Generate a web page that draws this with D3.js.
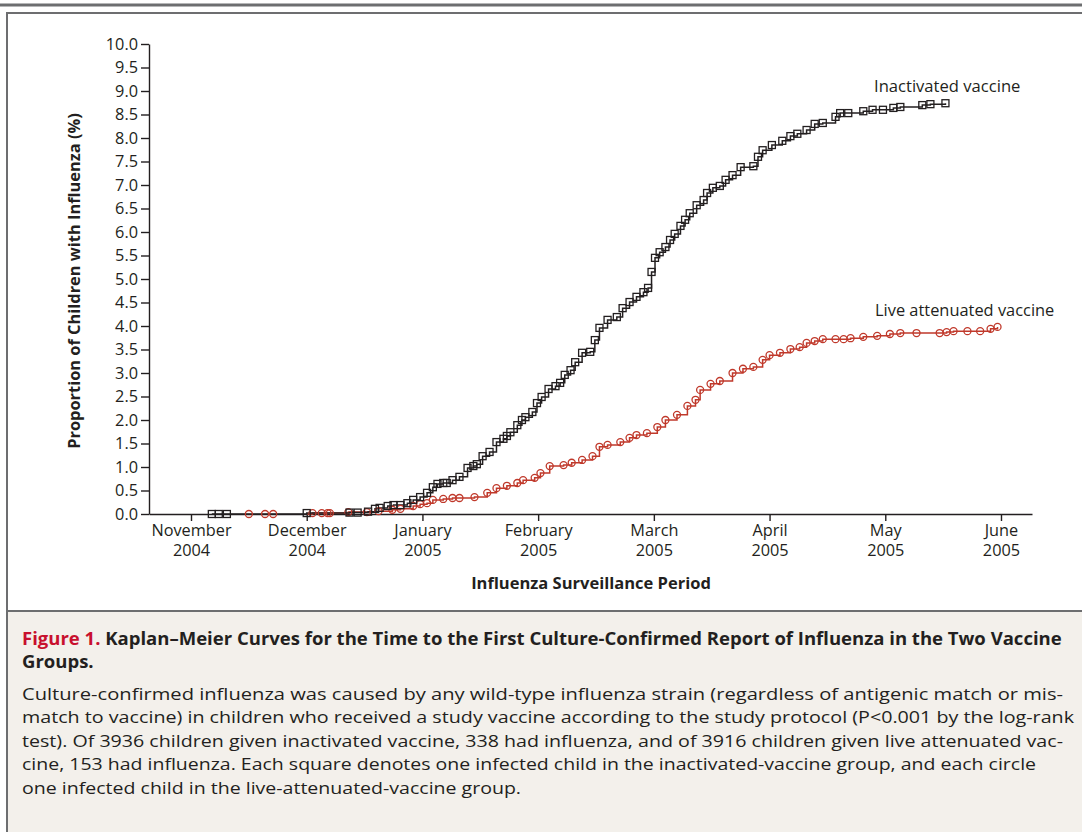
<!DOCTYPE html>
<html>
<head>
<meta charset="utf-8">
<script src="https://cdn.jsdelivr.net/npm/d3@7"></script>
<style>
  body { margin: 0; background: #fff; }
  svg { display: block; }
  text { font-family: "Open Sans", sans-serif; fill: #231f20; }
</style>
</head>
<body>
<div id="chart"></div>
<script>
// x values are month positions (0 = 1 Nov 2004, 1 = 1 Dec 2004, ...)
const monthNames = ["November", "December", "January", "February", "March", "April", "May", "June"];
const monthYears = ["2004", "2004", "2005", "2005", "2005", "2005", "2005", "2005"];
const yTicks = d3.range(0, 10.01, 0.5);

const inactivatedX = [0.18, 0.24, 0.31, 1.00, 1.37, 1.44, 1.53, 1.59, 1.63, 1.70, 1.75, 1.81, 1.87, 1.92, 1.98,
  2.04, 2.09, 2.13, 2.18, 2.21, 2.26, 2.32, 2.39, 2.44, 2.47, 2.52, 2.58, 2.64, 2.70, 2.73, 2.76, 2.82, 2.86,
  2.89, 2.95, 2.99, 3.03, 3.09, 3.15, 3.19, 3.23, 3.28, 3.32, 3.38, 3.45, 3.49, 3.53, 3.60, 3.68, 3.73, 3.79,
  3.85, 3.91, 3.95, 3.98, 4.01, 4.05, 4.10, 4.14, 4.18, 4.23, 4.27, 4.31, 4.37, 4.43, 4.46, 4.51, 4.57, 4.62,
  4.68, 4.75, 4.86, 4.90, 4.94, 5.02, 5.11, 5.18, 5.24, 5.32, 5.39, 5.46, 5.57, 5.61, 5.68, 5.81, 5.89, 5.98,
  6.07, 6.13, 6.32, 6.39, 6.52];
const inactivatedY = [0, 0, 0, 0.02, 0.03, 0.03, 0.05, 0.11, 0.13, 0.17, 0.19, 0.19, 0.23, 0.30, 0.36,
  0.45, 0.57, 0.64, 0.66, 0.66, 0.72, 0.79, 0.98, 1.02, 1.06, 1.23, 1.32, 1.53, 1.60, 1.66, 1.74, 1.89, 2.00,
  2.06, 2.17, 2.36, 2.49, 2.66, 2.72, 2.79, 2.96, 3.06, 3.23, 3.43, 3.45, 3.70, 3.96, 4.13, 4.19, 4.38, 4.51,
  4.62, 4.72, 4.81, 5.15, 5.45, 5.57, 5.68, 5.83, 5.96, 6.13, 6.26, 6.40, 6.57, 6.68, 6.83, 6.94, 6.98, 7.11,
  7.21, 7.38, 7.40, 7.60, 7.74, 7.85, 7.94, 8.04, 8.09, 8.17, 8.30, 8.32, 8.45, 8.53, 8.53, 8.57, 8.60, 8.60,
  8.64, 8.66, 8.70, 8.72, 8.74];

const liveX = [0.50, 0.64, 0.71, 1.05, 1.13, 1.18, 1.20, 1.36, 1.52, 1.62, 1.74, 1.81, 1.92, 1.98, 2.04, 2.09,
  2.18, 2.26, 2.32, 2.45, 2.56, 2.64, 2.73, 2.82, 2.87, 2.97, 3.02, 3.10, 3.22, 3.29, 3.38, 3.47, 3.53, 3.60,
  3.71, 3.79, 3.85, 3.94, 4.03, 4.10, 4.20, 4.29, 4.36, 4.40, 4.49, 4.57, 4.68, 4.77, 4.86, 4.94, 5.00, 5.09,
  5.18, 5.26, 5.32, 5.39, 5.46, 5.57, 5.64, 5.70, 5.81, 5.93, 6.04, 6.13, 6.27, 6.47, 6.53, 6.59, 6.71, 6.82,
  6.91, 6.97];
const liveY = [0, 0, 0, 0.02, 0.02, 0.02, 0.02, 0.04, 0.04, 0.06, 0.09, 0.11, 0.17, 0.21, 0.23, 0.30,
  0.32, 0.34, 0.34, 0.36, 0.45, 0.55, 0.60, 0.66, 0.72, 0.77, 0.87, 1.02, 1.04, 1.09, 1.15, 1.23, 1.43, 1.47,
  1.53, 1.62, 1.68, 1.72, 1.85, 2.00, 2.11, 2.30, 2.43, 2.64, 2.77, 2.83, 3.00, 3.09, 3.13, 3.28, 3.38, 3.43,
  3.51, 3.55, 3.64, 3.68, 3.72, 3.72, 3.72, 3.74, 3.77, 3.79, 3.83, 3.85, 3.85, 3.85, 3.87, 3.89, 3.89, 3.89,
  3.94, 3.98];

const bodyLines = [
    'Culture-confirmed influenza was caused by any wild-type influenza strain (regardless of antigenic match or mis-',
    'match to vaccine) in children who received a study vaccine according to the study protocol (P<0.001 by the log-rank',
    'test). Of 3936 children given inactivated vaccine, 338 had influenza, and of 3916 children given live attenuated vac-',
    'cine, 153 had influenza. Each square denotes one infected child in the inactivated-vaccine group, and each circle',
    'one infected child in the live-attenuated-vaccine group.'
];

const width = 1082;
const height = 832;

const svg = d3.select('#chart')
    .append('svg')
    .attr('width', width)
    .attr('height', height);

// Frame and caption panel
svg.append('rect')
    .attr('x', 0).attr('y', 3.5)
    .attr('width', width).attr('height', 3)
    .attr('fill', '#6d6e70');

svg.append('rect')
    .attr('x', 7).attr('y', 612)
    .attr('width', width).attr('height', height - 612)
    .attr('fill', '#f3f0eb');

svg.append('path')
    .attr('d', `M7,${height} V13 H${width}`)
    .attr('fill', 'none')
    .attr('stroke', '#6d6e70')
    .attr('stroke-width', 2);

svg.append('line')
    .attr('x1', 7).attr('x2', width)
    .attr('y1', 611).attr('y2', 611)
    .attr('stroke', '#6d6e70')
    .attr('stroke-width', 2);

// Scales
const xScale = d3.scaleLinear()
    .domain([-0.363, 7.268])
    .range([149, 1032]);

const yScale = d3.scaleLinear()
    .domain([0, 10])
    .range([514, 44]);

// Axes
const xAxis = d3.axisBottom(xScale)
    .tickValues(d3.range(monthNames.length))
    .tickSize(7)
    .tickSizeOuter(0)
    .tickFormat('');

const gx = svg.append('g')
    .attr('transform', 'translate(0,514)')
    .call(xAxis);

gx.selectAll('.tick')
    .each(function(d) {
        const t = d3.select(this).append('text')
            .attr('text-anchor', 'middle')
            .attr('font-size', 16.3)
            .attr('fill', '#231f20');
        t.append('tspan').attr('x', 0).attr('y', 22).text(monthNames[d]);
        t.append('tspan').attr('x', 0).attr('y', 42).text(monthYears[d]);
    });

const yAxis = d3.axisLeft(yScale)
    .tickValues(yTicks)
    .tickSize(8)
    .tickSizeOuter(0)
    .tickPadding(3)
    .tickFormat(d3.format('.1f'));

const gy = svg.append('g')
    .attr('transform', 'translate(149,0)')
    .call(yAxis);

svg.selectAll('.domain, .tick line')
    .attr('stroke', '#231f20')
    .attr('stroke-width', 1.4);

gy.selectAll('.tick text')
    .attr('font-size', 16.3)
    .attr('font-family', '"Open Sans", sans-serif')
    .attr('fill', '#231f20');

// Axis titles
svg.append('text')
    .attr('transform', 'translate(80,281) rotate(-90)')
    .attr('text-anchor', 'middle')
    .attr('font-size', 16.4)
    .attr('font-weight', 'bold')
    .text('Proportion of Children with Influenza (%)');

svg.append('text')
    .attr('x', 591)
    .attr('y', 589)
    .attr('text-anchor', 'middle')
    .attr('font-size', 16.5)
    .attr('font-weight', 'bold')
    .text('Influenza Surveillance Period');

// Kaplan-Meier step curves
const line = d3.line()
    .x(d => xScale(d[0]))
    .y(d => yScale(d[1]))
    .curve(d3.curveStepAfter);

const inactivated = inactivatedX.map((x, i) => [x, inactivatedY[i]]);
const live = liveX.map((x, i) => [x, liveY[i]]);

const liveColor = '#c0392b';
const inactColor = '#231f20';

svg.append('path')
    .datum([[1.0, 0]].concat(live.filter(d => d[0] > 1.0)))
    .attr('d', line)
    .attr('fill', 'none')
    .attr('stroke', liveColor)
    .attr('stroke-width', 1.5);

svg.append('path')
    .datum(inactivated)
    .attr('d', line)
    .attr('fill', 'none')
    .attr('stroke', inactColor)
    .attr('stroke-width', 1.5);

svg.append('g')
    .selectAll('circle')
    .data(live)
    .enter()
    .append('circle')
    .attr('cx', d => xScale(d[0]))
    .attr('cy', d => yScale(d[1]))
    .attr('r', 3.5)
    .attr('fill', 'none')
    .attr('stroke', liveColor)
    .attr('stroke-width', 1.3);

svg.append('g')
    .selectAll('rect')
    .data(inactivated)
    .enter()
    .append('rect')
    .attr('x', d => xScale(d[0]) - 3.5)
    .attr('y', d => yScale(d[1]) - 3.5)
    .attr('width', 7)
    .attr('height', 7)
    .attr('fill', 'none')
    .attr('stroke', inactColor)
    .attr('stroke-width', 1.3);

// Series labels
svg.append('text')
    .attr('x', 874).attr('y', 92)
    .attr('font-size', 16.6)
    .text('Inactivated vaccine');

svg.append('text')
    .attr('x', 875).attr('y', 316)
    .attr('font-size', 16.4)
    .text('Live attenuated vaccine');

// Caption (glyphs widened a little to match the original's wide face)
const titleG = svg.append('g')
    .attr('transform', 'translate(22,0) scale(1.09,1)');

const title = titleG.append('text')
    .attr('x', 0).attr('y', 645)
    .attr('font-size', 17)
    .attr('font-weight', 'bold');
title.append('tspan')
    .style('fill', '#c8102e')
    .text('Figure 1. ');
title.append('tspan')
    .text('Kaplan–Meier Curves for the Time to the First Culture-Confirmed Report of Influenza in the Two Vaccine');

titleG.append('text')
    .attr('x', 0).attr('y', 668)
    .attr('font-size', 17)
    .attr('font-weight', 'bold')
    .text('Groups.');

// widths of the caption lines as set in the original
const bodyWidths = [1041, 1052, 1041, 1014, 499];

svg.append('g')
    .selectAll('.body')
    .data(bodyLines)
    .enter()
    .append('text')
    .attr('class', 'body')
    .attr('x', 22)
    .attr('y', (d, i) => 700 + i * 23.4)
    .attr('font-size', 17)
    .attr('textLength', (d, i) => bodyWidths[i])
    .attr('lengthAdjust', 'spacingAndGlyphs')
    .text(d => d);
</script>
</body>
</html>
